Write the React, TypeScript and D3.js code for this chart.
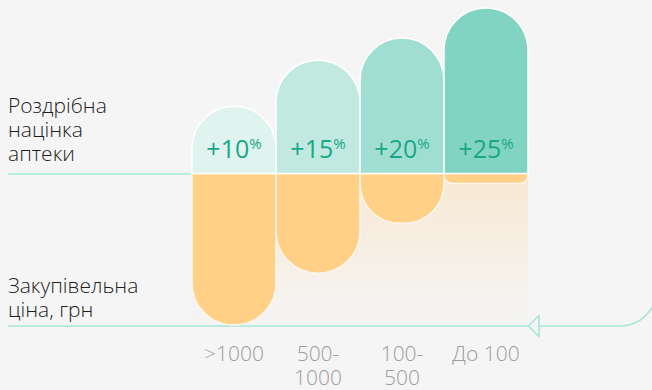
import React from "react";
import * as d3 from "d3";

const categories = [">1000", "500-1000", "100-500", "До 100"];
const categoryLines = [[">1000"], ["500-", "1000"], ["100-", "500"], ["До 100"]];
const markupPct = [10, 15, 20, 25];
const markupBar = [67, 113, 135, 165]; // illustrative height of retail markup block
const purchaseBar = [152, 100, 50, 10]; // illustrative depth of purchase price block
const tealFills = ["#dff3ef", "#c1e9e0", "#a1ded2", "#81d3c2"];
const orangeFill = "#ffd085";
const leftTop = ["Роздрібна", "націнка", "аптеки"];
const leftBottom = ["Закупівельна", "ціна, грн"];

const W = 652, H = 390;
const baseY = 173.5;

function topPath(x0: number, x1: number, yTop: number, yBase: number) {
  const r = Math.min((x1 - x0) / 2, yBase - yTop);
  const p = d3.path();
  p.moveTo(x0, yBase);
  p.lineTo(x0, yTop + r);
  p.arcTo(x0, yTop, x0 + r, yTop, r);
  p.lineTo(x1 - r, yTop);
  p.arcTo(x1, yTop, x1, yTop + r, r);
  p.lineTo(x1, yBase);
  p.closePath();
  return p.toString();
}
function bottomPath(x0: number, x1: number, yBase: number, yBot: number) {
  const h = yBot - yBase;
  const r = Math.min((x1 - x0) / 2, h * 0.8);
  const p = d3.path();
  p.moveTo(x0, yBase);
  p.lineTo(x0, yBot - r);
  p.arcTo(x0, yBot, x0 + r, yBot, r);
  p.lineTo(x1 - r, yBot);
  p.arcTo(x1, yBot, x1, yBot - r, r);
  p.lineTo(x1, yBase);
  p.closePath();
  return p.toString();
}

export default function App() {
  const x = d3.scaleBand<string>().domain(categories).range([192, 528]).paddingInner(0);
  const yUp = d3.scaleLinear().domain([0, 165]).range([baseY, 8]);
  const yDown = d3.scaleLinear().domain([0, 152]).range([baseY, 325]);
  const bw = x.bandwidth();
  const lineY = 326;
  const font = "'Open Sans', sans-serif";
  return (
    <svg width={W} height={H} style={{ position: "absolute", left: 0, top: 0 }} fontFamily={font}>
      <defs>
        <linearGradient id="peach" x1="0" y1="0" x2="0" y2="1">
          <stop offset="0" stopColor="#f8e8d2" />
          <stop offset="1" stopColor="#f5f5f5" />
        </linearGradient>
      </defs>
      <rect width={W} height={H} fill="#f5f5f5" />
      <rect x={x.range()[0]} y={baseY} width={x.range()[1] - x.range()[0]} height={lineY - baseY} fill="url(#peach)" />
      {/* left teal line */}
      <line x1={8} x2={x.range()[0]} y1={174} y2={174} stroke="#b7ebdf" strokeWidth={2} />
      {/* bottom line with arrow */}
      <path
        d={`M8,${lineY} L528,${lineY} M539,${lineY} L620,${lineY} C636,${lineY} 646,318 653,306`}
        fill="none"
        stroke="#a8e5d7"
        strokeWidth={1.6}
      />
      <path d={`M528.5,${lineY} L539,315.5 L539,336.5 Z`} fill="none" stroke="#a8e5d7" strokeWidth={1.6} strokeLinejoin="round" />
      {categories.map((c, i) => {
        const x0 = x(c)!;
        const x1 = x0 + bw;
        return (
          <g key={c}>
            <path d={bottomPath(x0, x1, baseY, yDown(purchaseBar[i]))} fill={orangeFill} stroke="#fbf6ee" strokeWidth={1.5} />
            <path d={topPath(x0, x1, yUp(markupBar[i]), baseY)} fill={tealFills[i]} stroke="#ffffff" strokeWidth={1.5} />
            <text x={x0 + bw / 2} y={158} textAnchor="middle" fill="#17a886" fontSize={25}>
              {"+" + markupPct[i]}
              <tspan fontSize={15} dy={-9}>%</tspan>
            </text>
            {categoryLines[i].map((t, j) => (
              <text key={j} x={x0 + bw / 2} y={361 + j * 24} textAnchor="middle" fill="#9c9c9c" fontSize={21} fontWeight={300}>
                {t}
              </text>
            ))}
          </g>
        );
      })}
      {leftTop.map((t, i) => (
        <text key={t} x={8} y={113 + i * 24} fill="#1e1e1e" fontSize={21} fontWeight={300}>{t}</text>
      ))}
      {leftBottom.map((t, i) => (
        <text key={t} x={8} y={293 + i * 24} fill="#1e1e1e" fontSize={21} fontWeight={300}>{t}</text>
      ))}
    </svg>
  );
}
